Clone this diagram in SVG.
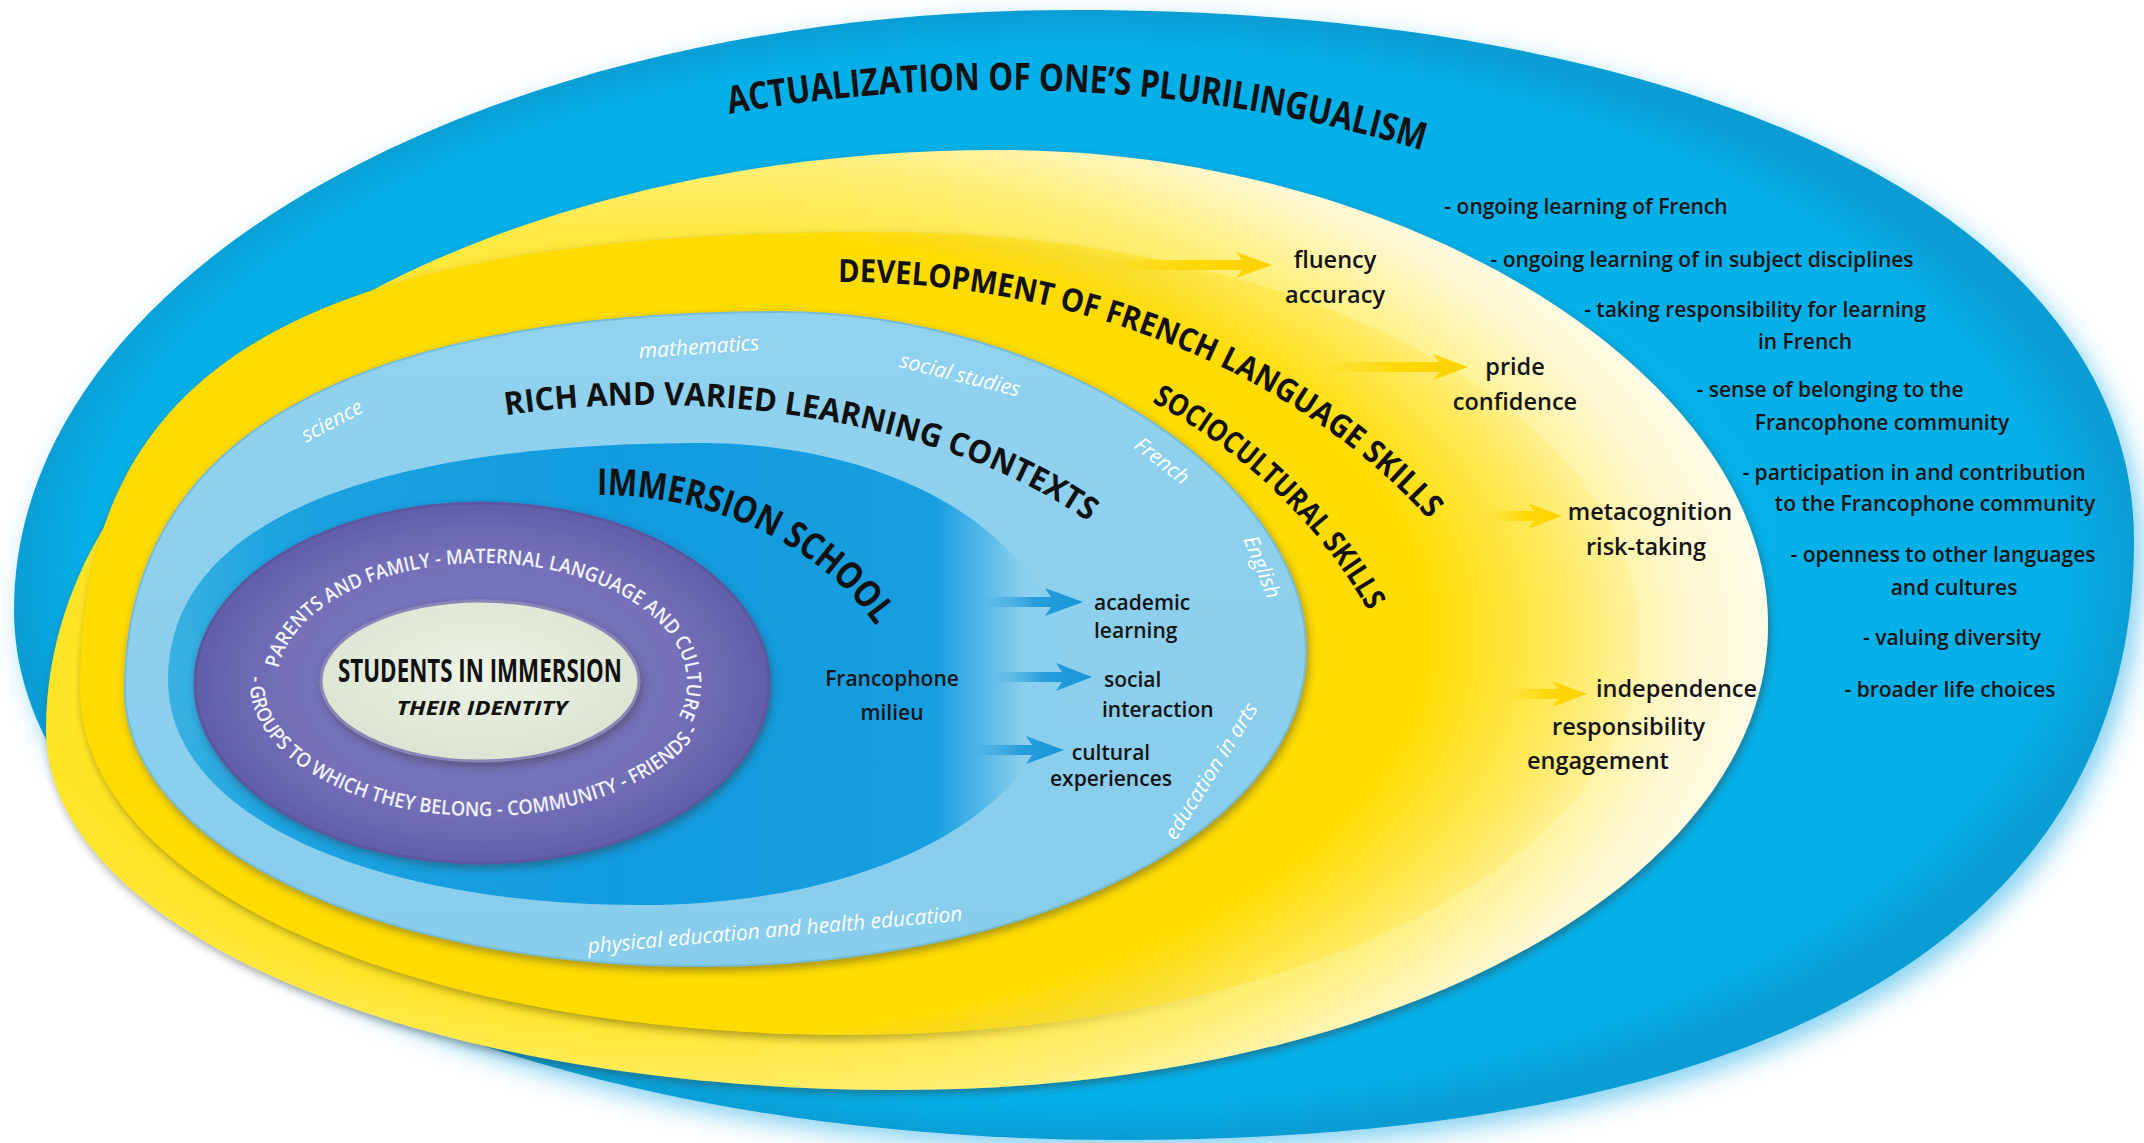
<svg xmlns="http://www.w3.org/2000/svg" width="2144" height="1143" viewBox="0 0 2144 1143">
<defs>
<style>
.hd{font-family:"Open Sans","Liberation Sans",sans-serif;font-weight:700;fill:#111;}
.lb{font-family:"Open Sans","Liberation Sans",sans-serif;font-weight:600;fill:#141414;}
.yl{font-size:23.5px;}
.bl{font-size:21px;}
.mid{text-anchor:middle;}
.sub{font-family:"Open Sans","DejaVu Sans",sans-serif;font-style:italic;font-size:21px;fill:#fff;text-anchor:middle;}
.ring{font-family:"Open Sans","Liberation Sans",sans-serif;font-weight:600;font-size:20px;fill:#f3f3ff;}
</style>
<radialGradient id="gA" cx="0.5" cy="0.5" r="0.5">
<stop offset="0" stop-color="#07B2EB"/><stop offset="0.93" stop-color="#05B0E9"/><stop offset="1" stop-color="#0A9DD4"/>
</radialGradient>
<radialGradient id="gB" cx="0.36" cy="0.52" r="0.66">
<stop offset="0" stop-color="#FFE300"/><stop offset="0.6" stop-color="#FFE52A"/><stop offset="0.78" stop-color="#FFF07A"/><stop offset="0.9" stop-color="#FFF8D0"/><stop offset="1" stop-color="#FFFDF2"/>
</radialGradient>
<radialGradient id="gC" cx="0.36" cy="0.5" r="0.68">
<stop offset="0" stop-color="#FFDB00"/><stop offset="0.74" stop-color="#FFDC00"/><stop offset="0.86" stop-color="#FFE440" stop-opacity="0.6"/><stop offset="1" stop-color="#FFF0A0" stop-opacity="0"/>
</radialGradient>
<linearGradient id="gD" x1="0" y1="0" x2="0" y2="1">
<stop offset="0" stop-color="#90D2EF"/><stop offset="1" stop-color="#88CDEC"/>
</linearGradient>
<linearGradient id="gE" gradientUnits="userSpaceOnUse" x1="168" y1="0" x2="1060" y2="0">
<stop offset="0" stop-color="#3AB2E2"/><stop offset="0.12" stop-color="#1CA3E0"/><stop offset="0.5" stop-color="#129BDF"/><stop offset="0.86" stop-color="#179EE0"/><stop offset="0.96" stop-color="#8BCFEE"/><stop offset="1" stop-color="#8BCFEE"/>
</linearGradient>
<radialGradient id="gF" cx="0.5" cy="0.5" r="0.5">
<stop offset="0" stop-color="#7C79C2"/><stop offset="0.7" stop-color="#7470B8"/><stop offset="1" stop-color="#625EA9"/>
</radialGradient>
<radialGradient id="gG" cx="0.5" cy="0.45" r="0.55">
<stop offset="0" stop-color="#EEF3E6"/><stop offset="1" stop-color="#DCE5D2"/>
</radialGradient>
<linearGradient id="gBa" x1="0" y1="0" x2="1" y2="0">
<stop offset="0" stop-color="#1795D8" stop-opacity="0"/><stop offset="0.5" stop-color="#1795D8" stop-opacity="0.85"/><stop offset="1" stop-color="#1795D8"/>
</linearGradient>
<linearGradient id="gYa" x1="0" y1="0" x2="1" y2="0">
<stop offset="0" stop-color="#FFD600" stop-opacity="0"/><stop offset="0.5" stop-color="#FFD600" stop-opacity="0.9"/><stop offset="1" stop-color="#FFD200"/>
</linearGradient>
<linearGradient id="gMaskL" gradientUnits="userSpaceOnUse" x1="800" y1="0" x2="1250" y2="0">
<stop offset="0" stop-color="#fff"/><stop offset="1" stop-color="#000"/>
</linearGradient>
<mask id="mLeft" maskUnits="userSpaceOnUse" x="0" y="0" width="2144" height="1143">
<rect width="2144" height="1143" fill="url(#gMaskL)"/>
</mask>
<filter id="sh" x="-5%" y="-5%" width="112%" height="115%">
<feDropShadow dx="2" dy="4" stdDeviation="4" flood-color="#303030" flood-opacity="0.45"/>
</filter>
<filter id="bl4" x="-5%" y="-5%" width="110%" height="115%">
<feGaussianBlur stdDeviation="4"/>
</filter>
<filter id="glow" x="-5%" y="-5%" width="110%" height="112%">
<feGaussianBlur stdDeviation="12"/>
</filter>
<path id="pAct" d="M 690 121.7 A 950 580 0 0 1 1480 169.5"/>
<path id="pDev" d="M 830 282 A 720 560 0 0 1 1500 618"/>
<path id="pSoc" d="M 1116 384 A 588 512 0 0 1 1408 703.5"/>
<path id="pRich" d="M 480 419.4 A 550 295 0 0 1 1180 621"/>
<path id="pImm" d="M 580 495.5 A 320 265 0 0 1 915 713"/>
<path id="pRingT" d="M 277.8 672.5 A 205 120 0 1 1 667.8 733.7"/>
<path id="pRingB" d="M 250.3 676 A 232 133 0 0 0 710.5 706.1"/>
<path id="shC" d="M 80 690 C 80 360 304 232 880 232 C 1306 232 1640 412 1640 640 C 1640 861 1292 1035 850 1035 C 420 1035 80 888 80 690 Z"/>
</defs>
<rect width="2144" height="1143" fill="#fff"/>

<g id="actualization">
<path d="M 14 610 C 14 274 481 10 1075 10 C 1710 10 2134 222 2134 540 C 2134 930 1779 1140 1120 1140 C 501 1140 14 907 14 610 Z" fill="#86D2F2" filter="url(#glow)" transform="translate(8 10)"/>
<path d="M 14 610 C 14 274 481 10 1075 10 C 1710 10 2134 222 2134 540 C 2134 930 1779 1140 1120 1140 C 501 1140 14 907 14 610 Z" fill="url(#gA)"/>
<text class="hd" font-size="38"><textPath href="#pAct" startOffset="40" textLength="700" lengthAdjust="spacingAndGlyphs">ACTUALIZATION OF ONE’S PLURILINGUALISM</textPath></text>
<g class="lb bl mid">
<text x="1586" y="214">- ongoing learning of French</text>
<text x="1702" y="267">- ongoing learning of in subject disciplines</text>
<text x="1755" y="317">- taking responsibility for learning</text>
<text x="1805" y="349">in French</text>
<text x="1830" y="397">- sense of belonging to the</text>
<text x="1882" y="430">Francophone community</text>
<text x="1914" y="480">- participation in and contribution</text>
<text x="1935" y="511">to the Francophone community</text>
<text x="1943" y="562">- openness to other languages</text>
<text x="1954" y="595">and cultures</text>
<text x="1952" y="645">- valuing diversity</text>
<text x="1950" y="697">- broader life choices</text>
</g>
</g>

<g id="development">
<path d="M 46 730 C 46 405 466 150 1000 150 C 1400 150 1768 370 1768 625 C 1768 883 1388 1090 900 1090 C 422 1090 46 932 46 730 Z" fill="url(#gB)" filter="url(#sh)"/>
<use href="#shC" fill="#4a3c00" opacity="0.45" filter="url(#bl4)" transform="translate(2 4)" mask="url(#mLeft)"/>
<use href="#shC" fill="url(#gC)"/>
<text class="hd" font-size="32"><textPath href="#pDev" startOffset="8" textLength="655" lengthAdjust="spacingAndGlyphs">DEVELOPMENT OF FRENCH LANGUAGE SKILLS</textPath></text>
<text class="hd" font-size="30"><textPath href="#pSoc" startOffset="40" textLength="305" lengthAdjust="spacingAndGlyphs">SOCIOCULTURAL SKILLS</textPath></text>
<g class="lb yl mid">
<text x="1335" y="268">fluency</text>
<text x="1335" y="303">accuracy</text>
<text x="1515" y="375">pride</text>
<text x="1515" y="410">confidence</text>
<text x="1650" y="520">metacognition</text>
<text x="1646" y="555">risk-taking</text>
</g>
<g class="lb yl">
<text x="1596" y="697">independence</text>
<text x="1552" y="735">responsibility</text>
<text x="1527" y="769">engagement</text>
</g>
</g>

<g id="learning-contexts">
<path d="M 125 690 C 125 440 348 312 780 312 C 1043 312 1306 475 1306 650 C 1306 827 1039 966 700 966 C 378 966 125 845 125 690 Z" fill="url(#gD)" stroke="#76BCD8" stroke-width="2" filter="url(#sh)"/>
<text class="hd" font-size="32"><textPath href="#pRich" startOffset="26" textLength="605" lengthAdjust="spacingAndGlyphs">RICH AND VARIED LEARNING CONTEXTS</textPath></text>
<text class="sub" x="332" y="428" transform="rotate(-28 332 421)">science</text>
<text class="sub" x="699" y="354" transform="rotate(-4 699 347)">mathematics</text>
<text class="sub" x="960" y="382" transform="rotate(14 960 375)">social studies</text>
<text class="sub" x="1162" y="468" transform="rotate(38 1162 461)">French</text>
<text class="sub" x="1262" y="574" transform="rotate(68 1262 567)">English</text>
<text class="sub" x="1211" y="778" transform="rotate(-58 1211 771)">education in arts</text>
<text class="sub" x="775" y="937" transform="rotate(-5 775 930)">physical education and health education</text>
<g class="lb bl">
<text x="1094" y="610">academic</text>
<text x="1094" y="638">learning</text>
<text x="1104" y="687">social</text>
<text x="1102" y="717">interaction</text>
<text x="1111" y="760" class="mid">cultural</text>
<text x="1111" y="786" class="mid">experiences</text>
</g>
</g>

<g id="immersion-school">
<path d="M 168 680 C 168 510 400 443 700 443 C 900 443 1060 540 1060 670 C 1060 800 890 905 640 905 C 380 905 168 820 168 680 Z" fill="url(#gE)"/>
<text class="hd" font-size="37"><textPath href="#pImm" startOffset="17" textLength="320" lengthAdjust="spacingAndGlyphs">IMMERSION SCHOOL</textPath></text>
<g class="lb bl mid">
<text x="892" y="686">Francophone</text>
<text x="892" y="720">milieu</text>
</g>
</g>

<g id="students-context">
<ellipse cx="482" cy="683" rx="287" ry="180" fill="url(#gF)" stroke="#5B57A2" stroke-width="3" filter="url(#sh)"/>
<text class="ring"><textPath href="#pRingT" startOffset="4" textLength="540" lengthAdjust="spacingAndGlyphs">PARENTS AND FAMILY - MATERNAL LANGUAGE AND CULTURE</textPath></text>
<text class="ring"><textPath href="#pRingB" startOffset="0" textLength="540" lengthAdjust="spacingAndGlyphs">- GROUPS TO WHICH THEY BELONG - COMMUNITY - FRIENDS -</textPath></text>
</g>

<g id="students">
<ellipse cx="480" cy="681" rx="159" ry="80" fill="url(#gG)" stroke="#8A87B8" stroke-width="3" filter="url(#sh)"/>
<text class="hd mid" x="480" y="682" font-size="32" textLength="284" lengthAdjust="spacingAndGlyphs">STUDENTS IN IMMERSION</text>
<text class="hd mid" x="482" y="715" font-size="20" font-style="italic" textLength="171" lengthAdjust="spacingAndGlyphs">THEIR IDENTITY</text>
</g>

<g id="connectors">
<path d="M 985 597 H 1051 L 1045 588 L 1083 602 L 1045 616 L 1051 607 H 985 Z" fill="url(#gBa)"/>
<path d="M 995 672 H 1062 L 1056 663 L 1092 677 L 1056 691 L 1062 682 H 995 Z" fill="url(#gBa)"/>
<path d="M 975 745 H 1032 L 1026 736 L 1064 750 L 1026 764 L 1032 755 H 975 Z" fill="url(#gBa)"/>
<path d="M 1100 260 H 1242 L 1236 252 L 1272 265 L 1236 278 L 1242 270 H 1100 Z" fill="url(#gYa)"/>
<path d="M 1322 362 H 1439 L 1433 354 L 1468 367 L 1433 380 L 1439 372 H 1322 Z" fill="url(#gYa)"/>
<path d="M 1488 511 H 1534 L 1528 503 L 1562 516 L 1528 529 L 1534 521 H 1488 Z" fill="url(#gYa)"/>
<path d="M 1508 689 H 1558 L 1552 681 L 1587 694 L 1552 707 L 1558 699 H 1508 Z" fill="url(#gYa)"/>
</g>
</svg>
